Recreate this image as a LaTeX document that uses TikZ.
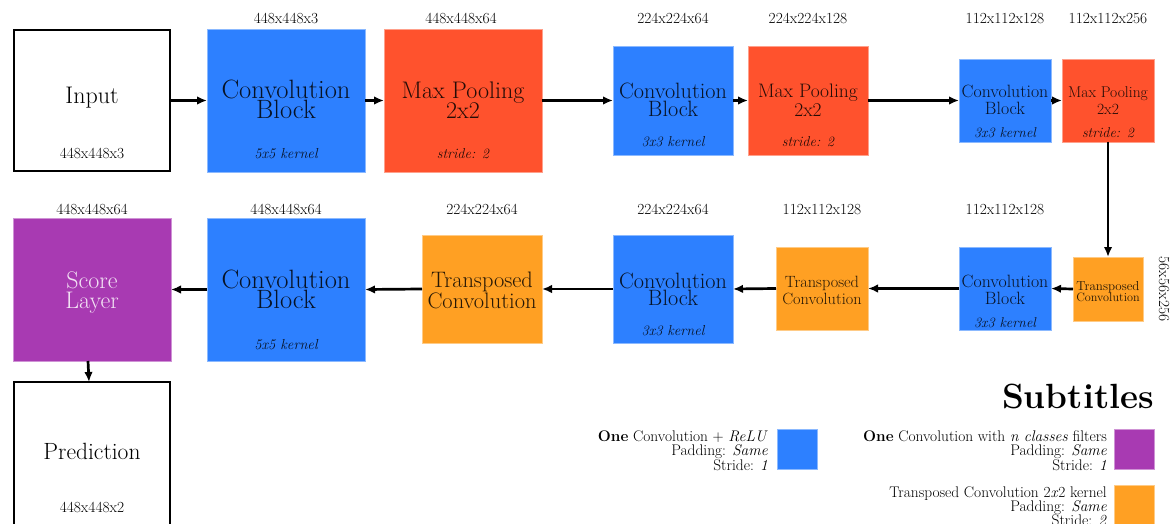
\documentclass[tikz,border=0pt]{standalone}
\usepackage{fontspec}
\setmainfont{Latin Modern Roman}
\usetikzlibrary{arrows.meta}
\definecolor{convblue}{RGB}{45,128,255}
\definecolor{poolred}{RGB}{255,82,45}
\definecolor{tconvorange}{RGB}{255,160,35}
\definecolor{scorepurple}{RGB}{168,58,178}
\tikzset{
  box/.style={rectangle, inner sep=0pt, outer sep=0pt, anchor=north west, line width=0.8pt},
  convbox/.style={box, fill=convblue, draw=convblue!55!white},
  poolbox/.style={box, fill=poolred, draw=poolred!55!white},
  tconvbox/.style={box, fill=tconvorange, draw=tconvorange!55!white},
  scorebox/.style={box, fill=scorepurple, draw=scorepurple!55!white},
  iobox/.style={box, fill=white, draw=black, line width=2.5pt},
  fs/.style={font=\fontsize{#1}{#1}\selectfont, inner sep=0pt, anchor=base},
  fsi/.style={font=\fontsize{#1}{#1}\selectfont\itshape, inner sep=0pt, anchor=base},
  ink/.style={text opacity=0.85},
  light/.style={text=white, text opacity=0.85},
  dim/.style={fs=15.4},
  arr/.style={line width=2.7pt, -{Latex[length=10pt,width=8.5pt]}},
}
\begin{document}
\begin{tikzpicture}[x=1pt, y=-1pt]
\useasboundingbox (0,0) rectangle (1173,524);
\clip (0,0) rectangle (1173,524);

% ---------- encoder row ----------
\node[iobox, minimum width=156, minimum height=141] (inp) at (14,30) {};
\node[fs=24] (inpa) at (92,104) {Input};
\node[dim] (inpd) at (92,159) {448x448x3};

\node[convbox, minimum width=158, minimum height=143] (c1) at (207,29) {};
\node[fs=26.5, ink] (c1a) at (286,99) {Convolution};
\node[fs=26.5, ink] (c1b) at (286,119) {Block};
\node[fsi=14.5, ink] (c1k) at (286,159) {5x5 kernel};
\node[dim] (c1s) at (286,24) {448x448x3};

\node[poolbox, minimum width=158, minimum height=143] (p1) at (384,29) {};
\node[fs=24, ink] (p1a) at (463,99) {Max Pooling};
\node[fs=24, ink] (p1b) at (463,119) {2x2};
\node[fsi=14.3, ink] (p1k) at (463,159) {stride: 2};
\node[dim] (p1s) at (461,24) {448x448x64};

\node[convbox, minimum width=120, minimum height=109] (c2) at (613,46) {};
\node[fs=22.2, ink] (c2a) at (673,99) {Convolution};
\node[fs=22.2, ink] (c2b) at (673,116.5) {Block};
\node[fsi=14.4, ink] (c2k) at (673,146.5) {3x3 kernel};
\node[dim] (c2s) at (673,24) {224x224x64};

\node[poolbox, minimum width=120, minimum height=109] (p2) at (748,46) {};
\node[fs=19.5, ink] (p2a) at (808,97.5) {Max Pooling};
\node[fs=19.5, ink] (p2b) at (808,117) {2x2};
\node[fsi=14.3, ink] (p2k) at (808,147) {stride: 2};
\node[dim] (p2s) at (808,24) {224x224x128};

\node[convbox, minimum width=92, minimum height=83] (c3) at (959,59) {};
\node[fs=17.8, ink] (c3a) at (1005,98) {Convolution};
\node[fs=17.8, ink] (c3b) at (1005,115) {Block};
\node[fsi=14.2, ink] (c3k) at (1005,138) {3x3 kernel};
\node[dim] (c3s) at (1005,24) {112x112x128};

\node[poolbox, minimum width=92, minimum height=83] (p3) at (1062,59) {};
\node[fs=15.6, ink] (p3a) at (1108,98) {Max Pooling};
\node[fs=15.6, ink] (p3b) at (1108,115) {2x2};
\node[fsi=14.2, ink] (p3k) at (1108,138) {stride: 2};
\node[dim] (p3s) at (1108,24) {112x112x256};

% ---------- decoder row ----------
\node[tconvbox, minimum width=70, minimum height=64] (t1) at (1073,257) {};
\node[fs=13, ink] (t1a) at (1108,290) {Transposed};
\node[fs=12.2, ink] (t1b) at (1108,301) {Convolution};
\node[dim, rotate=-90, anchor=center] (t1s) at (1164,289) {56x56x256};

\node[convbox, minimum width=92, minimum height=83] (c4) at (959,247) {};
\node[fs=17.8, ink] (c4a) at (1005,287) {Convolution};
\node[fs=17.8, ink] (c4b) at (1005,304) {Block};
\node[fsi=14.2, ink] (c4k) at (1005,327) {3x3 kernel};
\node[dim] (c4s) at (1005,214) {112x112x128};

\node[tconvbox, minimum width=92, minimum height=83] (t2) at (776,247) {};
\node[fs=16.3, ink] (t2a) at (822,287) {Transposed};
\node[fs=16.3, ink] (t2b) at (822,304) {Convolution};
\node[dim] (t2s) at (822,214) {112x112x128};

\node[convbox, minimum width=120, minimum height=108] (c5) at (613,235) {};
\node[fs=22.2, ink] (c5a) at (673,288) {Convolution};
\node[fs=22.2, ink] (c5b) at (673,305) {Block};
\node[fsi=14.4, ink] (c5k) at (673,335) {3x3 kernel};
\node[dim] (c5s) at (673,214) {224x224x64};

\node[tconvbox, minimum width=120, minimum height=108] (t3) at (422,235) {};
\node[fs=22.4, ink] (t3a) at (482,287) {Transposed};
\node[fs=22.4, ink] (t3b) at (482,308) {Convolution};
\node[dim] (t3s) at (482,214) {224x224x64};

\node[convbox, minimum width=158, minimum height=143] (c6) at (207,218) {};
\node[fs=26.5, ink] (c6a) at (286,288) {Convolution};
\node[fs=26.5, ink] (c6b) at (286,308) {Block};
\node[fsi=14.5, ink] (c6k) at (286,349) {5x5 kernel};
\node[dim] (c6s) at (286,214) {448x448x64};

\node[scorebox, minimum width=158, minimum height=143] (sc) at (13,218) {};
\node[fs=24, light] (sca) at (92,288) {Score};
\node[fs=24, light] (scb) at (92,308) {Layer};
\node[dim] (scs) at (92,214) {448x448x64};

\node[iobox, minimum width=156, minimum height=160] (pred) at (14,382) {};
\node[fs=23.5] (preda) at (92,459) {Prediction};
\node[dim] (predd) at (92,512) {448x448x2};

% ---------- connectors ----------
\draw[arr] (inp.east) -- (c1.west);
\draw[arr] (c1.east) -- (p1.west);
\draw[arr] (p1.east) -- (c2.west);
\draw[arr] (c2.east) -- (p2.west);
\draw[arr] (p2.east) -- (c3.west);
\draw[arr] (c3.east) -- (p3.west);
\draw[arr] (p3.south) -- (t1.north);
\draw[arr] (t1.west) -- (c4.east);
\draw[arr] (c4.west) -- (t2.east);
\draw[arr] (t2.west) -- (c5.east);
\draw[arr] (c5.west) -- (t3.east);
\draw[arr] (t3.west) -- (c6.east);
\draw[arr] (c6.west) -- (sc.east);
\draw[arr] ([xshift=-4pt]sc.south) -- ([xshift=-3pt]pred.north);

% ---------- legend ----------
\node[font=\fontsize{35}{35}\selectfont\bfseries, inner sep=0pt, anchor=base east] (legt) at (1154,408) {Subtitles};

\node[convbox, minimum width=40, minimum height=40] (lb) at (777,429) {};
\node[fs=15.4, anchor=base east] (lb1) at (768,441.5) {\textbf{One} Convolution + \textit{ReLU}};
\node[fs=15.4, anchor=base east] (lb2) at (768,455.5) {Padding: \textit{Same}};
\node[fs=15.4, anchor=base east] (lb3) at (768,470) {Stride: \textit{1}};

\node[scorebox, minimum width=40, minimum height=40] (lp) at (1114,429) {};
\node[fs=15.4, anchor=base east] (lp1) at (1107,441.5) {\textbf{One} Convolution with \textit{n classes} filters};
\node[fs=15.4, anchor=base east] (lp2) at (1107,455.5) {Padding: \textit{Same}};
\node[fs=15.4, anchor=base east] (lp3) at (1107,470) {Stride: \textit{1}};

\node[tconvbox, minimum width=40, minimum height=45] (lo) at (1114,485) {};
\node[fs=15.4, anchor=base east] (lo1) at (1107,497.5) {Transposed Convolution 2\textit{x}2 kernel};
\node[fs=15.4, anchor=base east] (lo2) at (1107,511) {Padding: \textit{Same}};
\node[fs=15.4, anchor=base east] (lo3) at (1107,525) {Stride: \textit{2}};
\end{tikzpicture}
\end{document}
